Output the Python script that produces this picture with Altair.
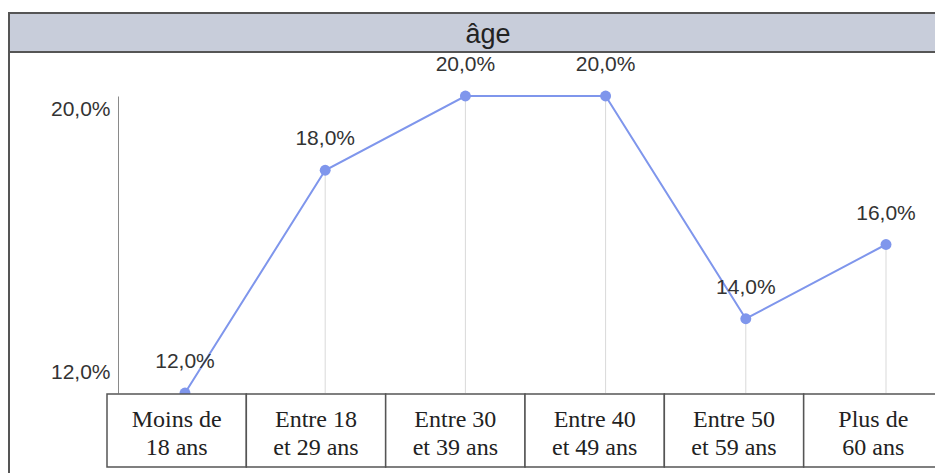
import altair as alt
import pandas as pd

# ---- data ----
categories = [
    "Moins de\n18 ans",
    "Entre 18\net  29 ans",
    "Entre 30\net  39 ans",
    "Entre 40\net  49 ans",
    "Entre 50\net  59 ans",
    "Plus de\n60 ans",
]
values = [12.0, 18.0, 20.0, 20.0, 14.0, 16.0]
y_ticks = [12.0, 20.0]
title_text = "âge"

df = pd.DataFrame({"cat": categories, "value": values})
title_df = pd.DataFrame({"t": [title_text]})

W, H = 927, 460
LINE = "#7f96ec"
TXT = "#333333"
FRAME = "#555555"
fmt = "replace(format(datum.value, '.1f'), '.', ',') + '%'"

x_pt = alt.X(
    "cat:N", sort=categories,
    scale=alt.Scale(type="point", range=[177, 878], padding=0),
    axis=None,
)
y_axis = alt.Axis(
    values=y_ticks,
    offset=-110,
    ticks=False,
    grid=False,
    domain=True,
    domainColor="#8a8a8a",
    domainWidth=1,
    labelExpr=fmt,
    labelFont="Liberation Sans",
    labelFontSize=21,
    labelColor=TXT,
    labelPadding=8,
    labelOffset={"condition": {"test": "datum.value >= 20", "value": 13}, "value": -21},
    title=None,
)
y_enc = alt.Y(
    "value:Q",
    scale=alt.Scale(domain=[12, 20], range=[380, 83], zero=False, nice=False),
    axis=y_axis,
)

base = alt.Chart(df)

drops = base.mark_rule(color="#d9d9d9", strokeWidth=1).encode(
    x=x_pt, y=y_enc, y2=alt.datum(12)
)
line = base.mark_line(color=LINE, strokeWidth=2).encode(x=x_pt, y=y_enc)
pts = base.mark_circle(size=120, color=LINE, opacity=1).encode(x=x_pt, y=y_enc)
labels = base.transform_calculate(lbl=fmt).mark_text(
    dy=-31, font="Liberation Sans", fontSize=21, color=TXT
).encode(x=x_pt, y=y_enc, text="lbl:N")

x_band = alt.X(
    "cat:N", sort=categories,
    scale=alt.Scale(type="band", range=[99, 935], paddingInner=0, paddingOuter=0),
    axis=None,
)
boxes = base.mark_rect(fill="white", stroke=FRAME, strokeWidth=1.5).encode(
    x=x_band, y=alt.value(381), y2=alt.value(454)
)
box_text = base.mark_text(
    font="Liberation Serif", fontSize=24, color="#222222",
    lineBreak="\n", lineHeight=28, baseline="middle",
).encode(x=x_band, y=alt.value(407), text="cat:N")

frame_left = alt.Chart(title_df).mark_rule(color=FRAME, strokeWidth=2).encode(
    x=alt.value(1), y=alt.value(0), y2=alt.value(H)
)
title_bar = alt.Chart(title_df).mark_rect(
    fill="#c8cdda", stroke=FRAME, strokeWidth=2
).encode(x=alt.value(1), x2=alt.value(W + 10), y=alt.value(0), y2=alt.value(39))
title_txt = alt.Chart(title_df).mark_text(
    font="Liberation Sans", fontSize=27, color="#222222", baseline="middle"
).encode(x=alt.value(480), y=alt.value(22), text="t:N")

chart = (
    alt.layer(drops, line, pts, labels, boxes, box_text, frame_left, title_bar, title_txt)
    .resolve_scale(x="independent")
    .properties(
        width=W, height=H,
        padding={"left": 0, "top": 5, "right": 0, "bottom": 0},
        autosize=alt.AutoSizeParams(type="none"),
        background="white",
    )
    .configure_view(strokeWidth=0)
)

chart.save("out.html", embed_options={"renderer": "svg", "actions": False})
